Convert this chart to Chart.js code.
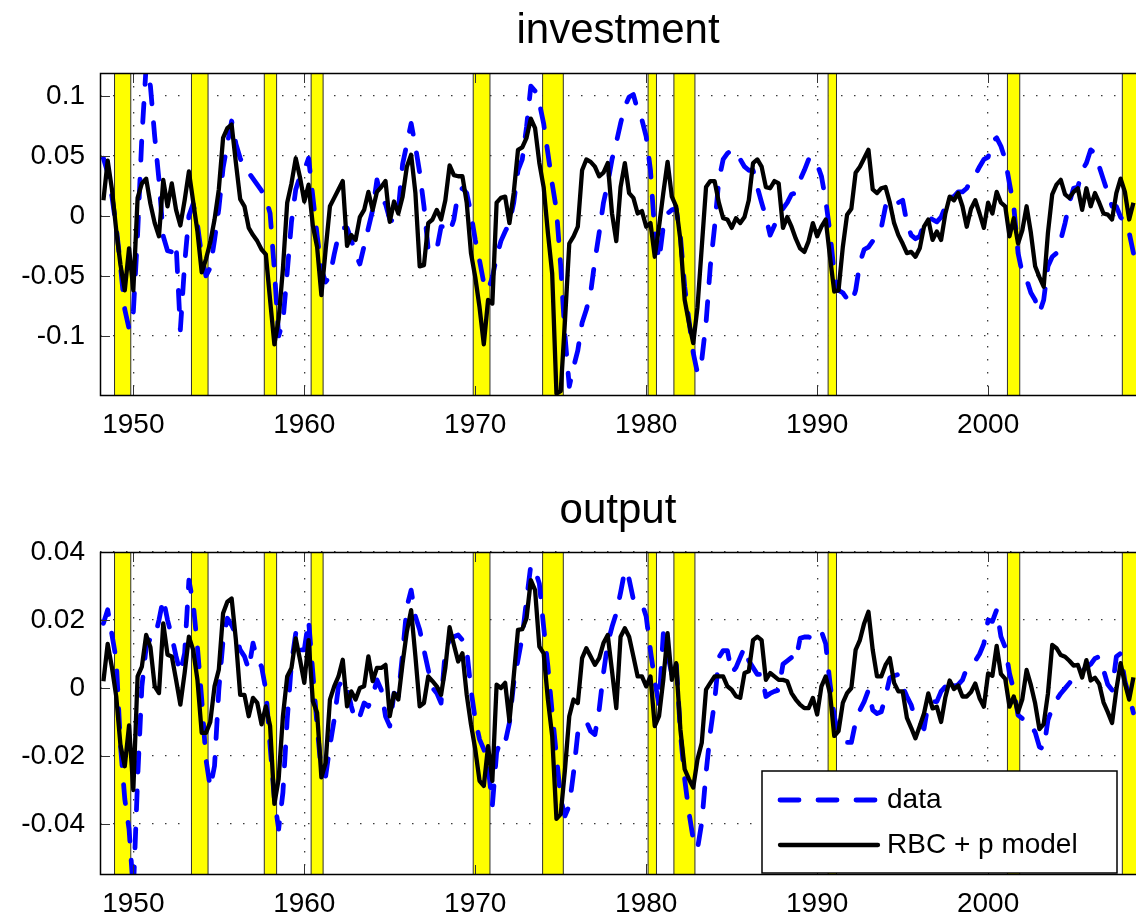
<!DOCTYPE html>
<html>
<head>
<meta charset="utf-8">
<title>investment / output</title>
<script src="https://cdn.jsdelivr.net/npm/chart.js@4.4.1/dist/chart.umd.min.js"></script>
<style>
  html, body { margin: 0; padding: 0; background: #fff; }
  #page { position: relative; width: 1136px; height: 918px; }
  .plotBox { position: absolute; left: 0; width: 1136px; height: 459px; }
</style>
</head>
<body>
<div id="page">
  <div class="plotBox" style="top:0px"><canvas id="invChart"></canvas></div>
  <div class="plotBox" style="top:459px"><canvas id="outChart"></canvas></div>
</div>
<script>
// quarterly series, first quarter plotted at 1948.25
const firstQuarter = 1948.25;

// recession bands (start, end) in years
const recStart = [1948.9, 1953.4, 1957.66, 1960.4, 1969.88, 1973.94, 1980.11, 1981.62, 1990.64, 2001.13, 2007.85];
const recEnd   = [1949.85, 1954.37, 1958.38, 1961.1, 1970.86, 1975.15, 1980.6, 1982.85, 1991.13, 2001.85, 2009.5];

const yearTicks = [1950, 1960, 1970, 1980, 1990, 2000];
const invTicks = [-0.1, -0.05, 0, 0.05, 0.1];
const invTickLabels = ["-0.1", "-0.05", "0", "0.05", "0.1"];
const outTicks = [-0.04, -0.02, 0, 0.02, 0.04];
const outTickLabels = ["-0.04", "-0.02", "0", "0.02", "0.04"];

// investment
const invData = [
  0.048, 0.036, 0.016, -0.009, -0.042, -0.078, -0.094, -0.080, -0.015, 0.066,
  0.125, 0.108, 0.066, 0.030, -0.017, -0.029, -0.030, -0.023, -0.095, -0.040,
  0.000, 0.010, -0.007, -0.034, -0.050, -0.043, -0.020, 0.006, 0.040, 0.060,
  0.079, 0.060, 0.048, 0.040, 0.036, 0.031, 0.026, 0.021, 0.015, 0.002,
  -0.045, -0.100, -0.088, -0.047, -0.005, 0.022, 0.033, 0.038, 0.048, 0.016,
  -0.016, -0.045, -0.055, -0.050, -0.032, -0.016, -0.010, -0.010, -0.020, -0.032,
  -0.040, -0.025, -0.010, 0.005, 0.030, 0.015, 0.010, -0.003, -0.005, 0.005,
  0.043, 0.060, 0.077, 0.058, 0.036, 0.008, -0.028, -0.031, -0.028, -0.009,
  -0.009, -0.014, -0.003, 0.019, 0.023, 0.019, 0.002, -0.020, -0.037, -0.056,
  -0.062, -0.051, -0.034, -0.021, -0.013, -0.006, 0.011, 0.038, 0.047, 0.074,
  0.108, 0.104, 0.094, 0.077, 0.052, 0.027, 0.005, -0.042, -0.100, -0.142,
  -0.126, -0.112, -0.089, -0.078, -0.064, -0.037, -0.014, 0.011, 0.027, 0.047,
  0.061, 0.077, 0.091, 0.099, 0.101, 0.088, 0.080, 0.066, 0.038, -0.014,
  -0.037, -0.009, 0.002, 0.005, 0.006, -0.017, -0.059, -0.087, -0.114, -0.131,
  -0.120, -0.089, -0.042, -0.009, 0.030, 0.047, 0.052, 0.055, 0.054, 0.047,
  0.041, 0.038, 0.038, 0.024, 0.011, -0.001, -0.016, -0.008, 0.002, 0.006,
  0.011, 0.018, 0.019, 0.030, 0.038, 0.047, 0.049, 0.043, 0.033, 0.013,
  -0.014, -0.048, -0.062, -0.064, -0.069, -0.073, -0.062, -0.039, -0.028, -0.026,
  -0.021, -0.016, -0.010, 0.008, 0.012, 0.008, 0.011, 0.013, -0.006, -0.016,
  -0.019, -0.017, -0.006, -0.001, -0.003, -0.005, -0.001, 0.008, 0.016, 0.016,
  0.020, 0.020, 0.023, 0.030, 0.034, 0.041, 0.047, 0.049, 0.062, 0.065,
  0.058, 0.047, 0.027, 0.008, -0.031, -0.048, -0.053, -0.064, -0.070, -0.081,
  -0.070, -0.042, -0.034, -0.031, -0.020, -0.006, 0.011, 0.023, 0.024, 0.038,
  0.044, 0.055, 0.052, 0.041, 0.030, 0.019, 0.008, 0.008, -0.001, -0.006,
  -0.014, -0.031
];
const invModel = [
  0.013, 0.046, 0.022, -0.012, -0.041, -0.062, -0.027, -0.062, 0.015, 0.027,
  0.031, 0.010, -0.006, -0.017, 0.030, 0.008, 0.027, 0.005, -0.008, 0.013,
  0.037, 0.012, -0.013, -0.047, -0.036, -0.022, -0.003, 0.022, 0.065, 0.073,
  0.076, 0.044, 0.014, 0.008, -0.010, -0.016, -0.021, -0.028, -0.032, -0.070,
  -0.107, -0.086, -0.044, 0.011, 0.027, 0.048, 0.032, 0.012, 0.026, -0.008,
  -0.026, -0.066, -0.028, 0.008, 0.015, 0.022, 0.029, -0.025, -0.016, -0.020,
  -0.001, 0.005, 0.020, 0.005, 0.020, 0.024, 0.029, -0.005, 0.012, 0.002,
  0.016, 0.041, 0.051, 0.019, -0.042, -0.041, -0.006, -0.003, 0.005, -0.003,
  0.013, 0.042, 0.034, 0.033, 0.033, 0.011, -0.031, -0.051, -0.076, -0.107,
  -0.070, -0.073, 0.011, 0.015, 0.016, -0.006, 0.019, 0.055, 0.057, 0.065,
  0.081, 0.073, 0.044, 0.024, -0.014, -0.048, -0.148, -0.146, -0.087, -0.023,
  -0.017, -0.009, 0.038, 0.047, 0.045, 0.041, 0.033, 0.036, 0.044, 0.002,
  -0.021, 0.024, 0.044, 0.019, 0.015, 0.002, 0.004, -0.009, -0.006, -0.034,
  -0.009, 0.019, 0.045, 0.016, 0.008, -0.020, -0.070, -0.089, -0.106, -0.076,
  -0.026, 0.024, 0.029, 0.029, 0.011, -0.002, -0.003, -0.010, -0.002, -0.006,
  -0.001, 0.013, 0.044, 0.047, 0.041, 0.024, 0.023, 0.029, 0.027, -0.010,
  -0.001, -0.009, -0.019, -0.027, -0.030, -0.021, -0.006, -0.017, -0.009, -0.003,
  -0.034, -0.063, -0.062, -0.026, 0.001, 0.006, 0.036, 0.041, 0.048, 0.055,
  0.022, 0.019, 0.023, 0.024, 0.011, -0.006, -0.016, -0.023, -0.031, -0.030,
  -0.034, -0.027, -0.009, -0.003, -0.020, -0.013, -0.020, 0.002, 0.016, 0.013,
  0.019, 0.008, -0.009, 0.006, 0.013, 0.002, -0.010, 0.011, 0.002, 0.020,
  0.011, 0.008, -0.017, -0.002, -0.023, -0.012, 0.008, -0.014, -0.042, -0.051,
  -0.059, -0.014, 0.018, 0.026, 0.030, 0.018, 0.015, 0.020, 0.023, 0.005,
  0.023, 0.008, 0.019, 0.011, 0.002, 0.001, -0.003, 0.019, 0.031, 0.020,
  -0.003, 0.011
];

// output
const outData = [
  0.019, 0.023, 0.0156, 0.0083, -0.017, -0.0327, -0.0415, -0.060, -0.0268, 0.0005,
  0.012, 0.0146, 0.0146, 0.020, 0.0263, 0.020, 0.0151, 0.0093, 0.0044, 0.0102,
  0.0317, 0.0249, 0.012, -0.0034, -0.021, -0.0293, -0.0229, -0.0005, 0.0141, 0.0205,
  0.0185, 0.0156, 0.0112, 0.0093, 0.0054, 0.0132, 0.0083, 0.0063, -0.0005, -0.017,
  -0.0327, -0.0415, -0.0307, -0.0093, 0.0073, 0.0161, 0.0112, 0.0112, 0.020, 0.0044,
  -0.0112, -0.0249, -0.0259, -0.017, -0.0093, 0.0005, 0.0024, 0.0005, -0.0054, -0.0098,
  -0.0083, -0.0044, -0.0054, -0.0024, 0.0024, -0.0005, -0.0083, -0.0112, -0.0015, -0.0024,
  0.0102, 0.0239, 0.0288, 0.021, 0.0171, 0.0112, 0.0054, 0.0, -0.0015, -0.0044,
  0.0112, 0.0141, 0.0151, 0.0156, 0.0141, 0.0112, -0.0005, -0.0093, -0.0151, -0.018,
  -0.0229, -0.0346, -0.019, -0.0151, -0.0161, -0.0102, 0.0015, 0.0083, 0.0151, 0.0259,
  0.0361, 0.0346, 0.0307, 0.018, 0.0063, -0.0073, -0.020, -0.0327, -0.0376, -0.0346,
  -0.0249, -0.0132, -0.0112, -0.0098, -0.0127, -0.0137, -0.0063, 0.0044, 0.0132, 0.018,
  0.022, 0.028, 0.0347, 0.032, 0.026, 0.025, 0.025, 0.021, 0.011, 0.002,
  -0.005, 0.016, 0.010, 0.004, 0.008, -0.0132, -0.0268, -0.0366, -0.0444, -0.0473,
  -0.0395, -0.025, -0.013, -0.004, 0.009, 0.011, 0.011, 0.0044, 0.006, 0.009,
  0.012, 0.008, 0.006, 0.004, 0.004, -0.0025, -0.0016, -0.001, -0.0006, 0.007,
  0.008, 0.009, 0.008, 0.0146, 0.015, 0.015, 0.0146, 0.0166, 0.0166, 0.013,
  0.0014, -0.0084, -0.0138, -0.015, -0.016, -0.016, -0.010, -0.0065, -0.004, -0.0006,
  -0.0065, -0.0075, -0.007, -0.0025, 0.003, 0.0036, 0.004, 0.0004, -0.0025, -0.005,
  -0.0094, -0.0104, -0.012, -0.0045, -0.004, -0.004, -0.001, 0.0004, 0.003, 0.0004,
  0.001, 0.0024, 0.0058, 0.007, 0.008, 0.010, 0.013, 0.020, 0.0196, 0.023,
  0.0151, 0.012, 0.0043, -0.0006, -0.008, -0.009, -0.009, -0.011, -0.013, -0.0173,
  -0.018, -0.0094, -0.006, -0.0035, -0.0016, -0.0001, 0.0014, 0.003, 0.004, 0.005,
  0.006, 0.007, 0.0087, 0.0092, 0.0053, 0.001, -0.0006, 0.0092, 0.0102, 0.002,
  -0.0024, -0.0073
];
const outModel = [
  0.002, 0.013, 0.006, -0.0025, -0.017, -0.023, -0.011, -0.030, 0.0034, 0.0063,
  0.0156, 0.012, 0.0005, -0.0015, 0.019, 0.0098, 0.0093, 0.0024, -0.0049, 0.0044,
  0.0151, 0.0112, 0.0024, -0.0132, -0.0132, -0.010, 0.0005, 0.0054, 0.022, 0.0254,
  0.0263, 0.0141, -0.002, -0.002, -0.0083, -0.0029, -0.0044, -0.0107, -0.0054, -0.0112,
  -0.0341, -0.0268, -0.0083, 0.0034, 0.0059, 0.0146, 0.0083, 0.0015, 0.0141, -0.0039,
  -0.0073, -0.0263, -0.022, -0.0034, 0.0005, 0.0034, 0.0083, -0.0054, -0.001, -0.0034,
  0.0, 0.0005, 0.0093, 0.002, 0.0059, 0.0059, 0.0068, -0.0083, -0.0015, -0.0034,
  0.0073, 0.0166, 0.0229, 0.0093, -0.0054, -0.0044, 0.0034, 0.002, 0.0005, -0.002,
  0.0059, 0.0179, 0.0127, 0.0078, 0.0102, -0.002, -0.0107, -0.018, -0.0273, -0.0288,
  -0.0171, -0.0273, 0.001, 0.0, 0.0015, -0.0098, 0.0034, 0.0171, 0.0173, 0.0205,
  0.0317, 0.0288, 0.0122, 0.0102, -0.0034, -0.0141, -0.0385, -0.0371, -0.0239, -0.0083,
  -0.0034, -0.0044, 0.0088, 0.0117, 0.0093, 0.0068, 0.0088, 0.0132, 0.0156, 0.005,
  -0.0059, 0.0151, 0.0176, 0.0151, 0.0093, 0.0034, 0.0034, 0.0005, 0.0034, -0.0112,
  -0.0083, 0.0024, 0.0161, 0.0024, 0.0073, -0.0122, -0.0239, -0.0268, -0.0293, -0.021,
  -0.0161, -0.0005, 0.0015, 0.0034, 0.0034, 0.0034, 0.0005, -0.0005, -0.0024, -0.0029,
  0.0044, 0.0049, 0.0141, 0.0151, 0.0141, 0.0024, 0.0044, 0.0034, 0.0024, 0.0024,
  0.002, -0.0015, -0.0034, -0.0049, -0.0059, -0.0059, -0.0029, -0.0078, 0.0005, 0.0034,
  -0.0015, -0.0141, -0.0127, -0.0044, -0.0015, 0.0, 0.0112, 0.0141, 0.019, 0.0224,
  0.0112, 0.0034, 0.0034, 0.0068, 0.0088, 0.0015, -0.001, -0.001, -0.0088, -0.0117,
  -0.0148, -0.0112, -0.0075, -0.0016, -0.006, -0.0055, -0.010, -0.0027, 0.0022, -0.0003,
  0.0007, -0.0025, -0.0025, -0.0012, 0.0013, -0.003, -0.0055, 0.0043, 0.0036, 0.0124,
  0.0041, 0.0027, -0.0055, -0.0025, -0.0071, -0.0033, 0.0053, 0.0009, -0.0045, -0.0121,
  -0.0106, -0.0016, 0.0127, 0.0117, 0.0097, 0.0092, 0.008, 0.0066, 0.0068, 0.0031,
  0.0082, 0.0022, 0.003, 0.0012, -0.0042, -0.0071, -0.0103, -0.0005, 0.0073, 0.0014,
  -0.0034, 0.0031
];

const seriesLabels = ["data", "RBC + p model"];

const FONT = "'Liberation Sans', Arial, Helvetica, sans-serif";
Chart.defaults.font.family = FONT;
Chart.defaults.color = "#000";

function toPoints(values) {
  let pts = [];
  for (let i = 0; i < values.length; i++) {
    pts.push({ x: firstQuarter + i / 4, y: values[i] });
  }
  return pts;
}

// yellow recession bars behind the lines
const recessionBands = {
  id: "recessionBands",
  beforeDatasetsDraw(chart) {
    const { ctx, chartArea: a, scales } = chart;
    ctx.save();
    ctx.beginPath();
    ctx.rect(a.left, a.top, a.right - a.left, a.bottom - a.top);
    ctx.clip();
    for (let i = 0; i < recStart.length; i++) {
      let x1 = scales.x.getPixelForValue(recStart[i]);
      let x2 = scales.x.getPixelForValue(recEnd[i]);
      ctx.fillStyle = "#ffff00";
      ctx.fillRect(x1, a.top, x2 - x1, a.bottom - a.top);
      ctx.strokeStyle = "#303030";
      ctx.lineWidth = 1;
      ctx.strokeRect(x1, a.top, x2 - x1, a.bottom - a.top);
    }
    ctx.restore();
  }
};

// box round the axes plus matlab style inner ticks
// (the right edge of the axes falls just outside the picture)
const axesFrame = {
  id: "axesFrame",
  afterDatasetsDraw(chart) {
    const { ctx, chartArea: a, scales } = chart;
    ctx.save();
    ctx.strokeStyle = "#333";
    ctx.lineWidth = 1;
    ctx.beginPath();
    scales.x.ticks.forEach(t => {
      let px = Math.round(scales.x.getPixelForValue(t.value)) + 0.5;
      ctx.moveTo(px, a.bottom); ctx.lineTo(px, a.bottom - 10);
      ctx.moveTo(px, a.top); ctx.lineTo(px, a.top + 10);
    });
    scales.y.ticks.forEach(t => {
      let py = Math.round(scales.y.getPixelForValue(t.value)) + 0.5;
      ctx.moveTo(a.left, py); ctx.lineTo(a.left + 10, py);
    });
    ctx.stroke();
    ctx.strokeStyle = "#000";
    ctx.lineWidth = 1.5;
    ctx.beginPath();
    ctx.moveTo(a.right + 2, a.top + 0.5);
    ctx.lineTo(a.left + 0.5, a.top + 0.5);
    ctx.lineTo(a.left + 0.5, a.bottom - 0.5);
    ctx.lineTo(a.right + 2, a.bottom - 0.5);
    ctx.stroke();
    ctx.restore();
  }
};

// legend box in the lower right corner of the output panel
const boxLegend = {
  id: "boxLegend",
  afterDraw(chart) {
    const { ctx, chartArea: a } = chart;
    const w = 355, h = 102;
    const left = a.right - 19 - w;
    const top = a.bottom - 2 - h;
    ctx.save();
    ctx.fillStyle = "#fff";
    ctx.fillRect(left, top, w, h);
    ctx.strokeStyle = "#000";
    ctx.lineWidth = 1.5;
    ctx.strokeRect(left, top, w, h);
    const rows = [top + 29, top + 74];
    chart.data.datasets.forEach((ds, i) => {
      ctx.beginPath();
      ctx.strokeStyle = ds.borderColor;
      ctx.lineWidth = ds.borderWidth;
      ctx.lineCap = "round";
      ctx.setLineDash(ds.borderDash || []);
      ctx.moveTo(left + 18, rows[i]);
      ctx.lineTo(left + 116, rows[i]);
      ctx.stroke();
      ctx.setLineDash([]);
      ctx.fillStyle = "#000";
      ctx.font = "28px " + FONT;
      ctx.textAlign = "left";
      ctx.textBaseline = "middle";
      ctx.fillText(ds.label, left + 125, rows[i]);
    });
    ctx.restore();
  }
};

function makePanel(canvasId, title, dataVals, modelVals, yMin, yMax, yTicks, yLabels, titlePad, xAxisHeight, extraPlugins) {
  const config = {
    type: "line",
    data: {
      datasets: [
        {
          label: seriesLabels[0],
          data: toPoints(dataVals),
          borderColor: "#0000ff",
          borderWidth: 4.8,
          borderDash: [19, 19],
          borderCapStyle: "round",
          borderJoinStyle: "round",
          pointRadius: 0,
          tension: 0,
          clip: 0,
          order: 1
        },
        {
          label: seriesLabels[1],
          data: toPoints(modelVals),
          borderColor: "#000000",
          borderWidth: 4.3,
          borderJoinStyle: "round",
          pointRadius: 0,
          tension: 0,
          clip: 0,
          order: 0
        }
      ]
    },
    options: {
      responsive: true,
      maintainAspectRatio: false,
      animation: false,
      devicePixelRatio: 1,
      events: [],
      layout: { padding: 0 },
      plugins: {
        legend: { display: false },
        tooltip: { enabled: false },
        title: {
          display: true,
          text: title,
          fullSize: false,
          color: "#000",
          font: { size: 42, weight: "normal", family: FONT, lineHeight: 1.2 },
          padding: titlePad
        }
      },
      scales: {
        x: {
          type: "linear",
          min: 1948.05,
          max: 2008.65,
          afterBuildTicks: s => { s.ticks = yearTicks.map(v => ({ value: v })); },
          afterFit: s => { s.height = xAxisHeight; },
          grid: { color: "#3a3a3a", lineWidth: 1.3, drawTicks: false },
          border: { display: false, dash: [1.5, 11.5] },
          ticks: {
            font: { size: 28 },
            color: "#000",
            padding: 12,
            maxRotation: 0,
            autoSkip: false,
            callback: v => String(v)
          }
        },
        y: {
          min: yMin,
          max: yMax,
          afterBuildTicks: s => { s.ticks = yTicks.map(v => ({ value: v })); },
          afterFit: s => { s.width = 100; },
          grid: { color: "#3a3a3a", lineWidth: 1.3, drawTicks: false },
          border: { display: false, dash: [1.5, 11.5] },
          ticks: {
            font: { size: 28 },
            color: "#000",
            padding: 15,
            autoSkip: false,
            callback: (v, i) => yLabels[i]
          }
        }
      }
    },
    plugins: [recessionBands, axesFrame].concat(extraPlugins)
  };
  return new Chart(document.getElementById(canvasId), config);
}

makePanel("invChart", "investment", invData, invModel, -0.15, 0.119,
  invTicks, invTickLabels, { top: 6, bottom: 16.6 }, 63, []);
makePanel("outChart", "output", outData, outModel, -0.055, 0.04,
  outTicks, outTickLabels, { top: 27, bottom: 15.6 }, 43, [boxLegend]);
</script>
</body>
</html>
